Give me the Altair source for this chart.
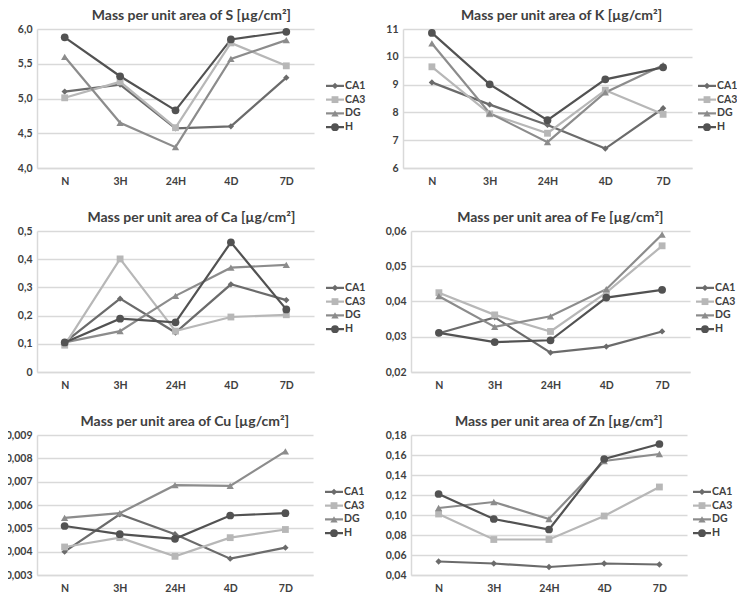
import altair as alt
import pandas as pd

times = ["N", "3H", "24H", "4D", "7D"]
series = ["CA1", "CA3", "DG", "H"]
colors = ["#6b6b6b", "#b7b7b7", "#8c8c8c", "#525252"]
shapes = ["diamond", "square", "triangle-up", "circle"]
sizes = [40, 60, 70, 75]

S = {"CA1": [5.10, 5.20, 4.57, 4.60, 5.30],
     "CA3": [5.01, 5.24, 4.58, 5.80, 5.47],
     "DG":  [5.60, 4.65, 4.30, 5.57, 5.84],
     "H":   [5.88, 5.32, 4.83, 5.85, 5.96]}
K = {"CA1": [9.08, 8.28, 7.55, 6.70, 8.15],
     "CA3": [9.64, 7.95, 7.25, 8.80, 7.93],
     "DG":  [10.48, 7.97, 6.93, 8.72, 9.70],
     "H":   [10.86, 9.01, 7.72, 9.19, 9.62]}
Ca = {"CA1": [0.105, 0.260, 0.140, 0.311, 0.255],
      "CA3": [0.095, 0.401, 0.145, 0.195, 0.203],
      "DG":  [0.105, 0.145, 0.270, 0.370, 0.380],
      "H":   [0.105, 0.189, 0.176, 0.460, 0.222]}
Fe = {"CA1": [0.0310, 0.0355, 0.0255, 0.0272, 0.0315],
      "CA3": [0.0425, 0.0362, 0.0315, 0.0425, 0.0558],
      "DG":  [0.0415, 0.0328, 0.0358, 0.0435, 0.0590],
      "H":   [0.0311, 0.0285, 0.0290, 0.0411, 0.0433]}
Cu = {"CA1": [0.00400, 0.00560, 0.00475, 0.00370, 0.00417],
      "CA3": [0.00420, 0.00460, 0.00380, 0.00460, 0.00495],
      "DG":  [0.00545, 0.00565, 0.00685, 0.00682, 0.00830],
      "H":   [0.00510, 0.00475, 0.00455, 0.00555, 0.00565]}
Zn = {"CA1": [0.0535, 0.0515, 0.0480, 0.0515, 0.0505],
      "CA3": [0.1010, 0.0755, 0.0755, 0.0990, 0.1280],
      "DG":  [0.1070, 0.1130, 0.0960, 0.1540, 0.1610],
      "H":   [0.1210, 0.0960, 0.0855, 0.1560, 0.1710]}

FONT = "Lato"
TXT = "#404040"
GRID = "#d9d9d9"

color_scale = alt.Scale(domain=series, range=colors)
shape_scale = alt.Scale(domain=series, range=shapes)
size_scale = alt.Scale(domain=series, range=sizes)


def to_df(d):
    rows = []
    for s in series:
        for t, v in zip(times, d[s]):
            rows.append({"series": s, "time": t, "value": v})
    return pd.DataFrame(rows)


def panel(d, element, lo, hi, step, dec, W, H, lg):
    df = to_df(d)
    ticks = []
    v = lo
    while v <= hi + step / 1000:
        ticks.append(round(v, 6))
        v += step
    if dec == 0:
        lab = "format(datum.value, 'd')"
    else:
        lab = ("datum.value == 0 ? '0' : replace(format(datum.value, '.%df'), '.', ',')" % dec)
    base = alt.Chart(df).encode(
        x=alt.X("time:N", sort=times, title=None,
                scale=alt.Scale(type="point", domain=times, padding=0.5),
                axis=alt.Axis(ticks=False, domainColor=GRID, domainWidth=1.5,
                              labelFont=FONT, labelFontWeight="bold", labelFontSize=10.5,
                              labelColor=TXT, labelPadding=8, grid=False, labelAngle=0)),
        y=alt.Y("value:Q", title=None,
                scale=alt.Scale(domain=[lo, hi], nice=False, zero=False),
                axis=alt.Axis(values=ticks, labelExpr=lab, ticks=False,
                              domainColor=GRID, domainWidth=1.5,
                              gridColor=GRID, gridWidth=1.5,
                              labelFont=FONT, labelFontWeight="bold", labelFontSize=10.5,
                              labelColor=TXT, labelPadding=5)),
        color=alt.Color("series:N", scale=color_scale, legend=None),
    )
    lines = base.mark_line(strokeWidth=2.2)
    points = base.mark_point(filled=True, opacity=1).encode(
        shape=alt.Shape("series:N", scale=shape_scale, legend=None),
        size=alt.Size("series:O", scale=size_scale, legend=None),
    )
    main = alt.layer(lines, points)

    leg_df = pd.DataFrame({"series": series})
    ly = alt.Y("series:N", scale=alt.Scale(type="point", domain=series, range=[50, 105]),
               axis=None)
    leg_base = alt.Chart(leg_df).encode(y=ly)
    leg_rule = leg_base.mark_rule(strokeWidth=2.2).encode(
        x=alt.value(W + lg), x2=alt.value(W + lg + 18),
        color=alt.Color("series:N", scale=color_scale, legend=None))
    leg_pt = leg_base.mark_point(filled=True, opacity=1).encode(
        x=alt.value(W + lg + 9),
        color=alt.Color("series:N", scale=color_scale, legend=None),
        shape=alt.Shape("series:N", scale=shape_scale, legend=None),
        size=alt.Size("series:O", scale=size_scale, legend=None))
    leg_txt = leg_base.mark_text(align="left", baseline="middle", font=FONT,
                                 fontWeight="bold", fontSize=10.5, color=TXT).encode(
        x=alt.value(W + lg + 19), text="series:N")
    legend = alt.layer(leg_rule, leg_pt, leg_txt)

    title = alt.TitleParams(
        "Mass per unit area of %s [µg/cm²]" % element,
        font=FONT, fontSize=14, fontWeight="bold", color=TXT,
        anchor="middle", frame="bounds", offset=1)
    return alt.layer(main, legend).resolve_scale(
        y="independent").properties(width=W, height=H, title=title)


p1 = panel(S, "S", 4.0, 6.0, 0.5, 1, 277, 139, 12)
p2 = panel(K, "K", 6, 11, 1, 0, 289, 139, 6)
p3 = panel(Ca, "Ca", 0, 0.5, 0.1, 1, 277, 141, 12)
p4 = panel(Fe, "Fe", 0.02, 0.06, 0.01, 2, 279, 141, 6)
p5 = panel(Cu, "Cu", 0.003, 0.009, 0.001, 3, 276, 140, 12)
p6 = panel(Zn, "Zn", 0.04, 0.18, 0.02, 2, 276, 140, 6)

chart = alt.concat(p1, p2, p3, p4, p5, p6, columns=2, align="none",
                   spacing={"row": 24, "column": 19}).properties(
    padding={"left": -3, "top": 1, "right": -1, "bottom": 0}, background="white"
).configure_view(strokeWidth=0)

chart.save("out.html", embed_options={"renderer": "svg", "actions": False})
